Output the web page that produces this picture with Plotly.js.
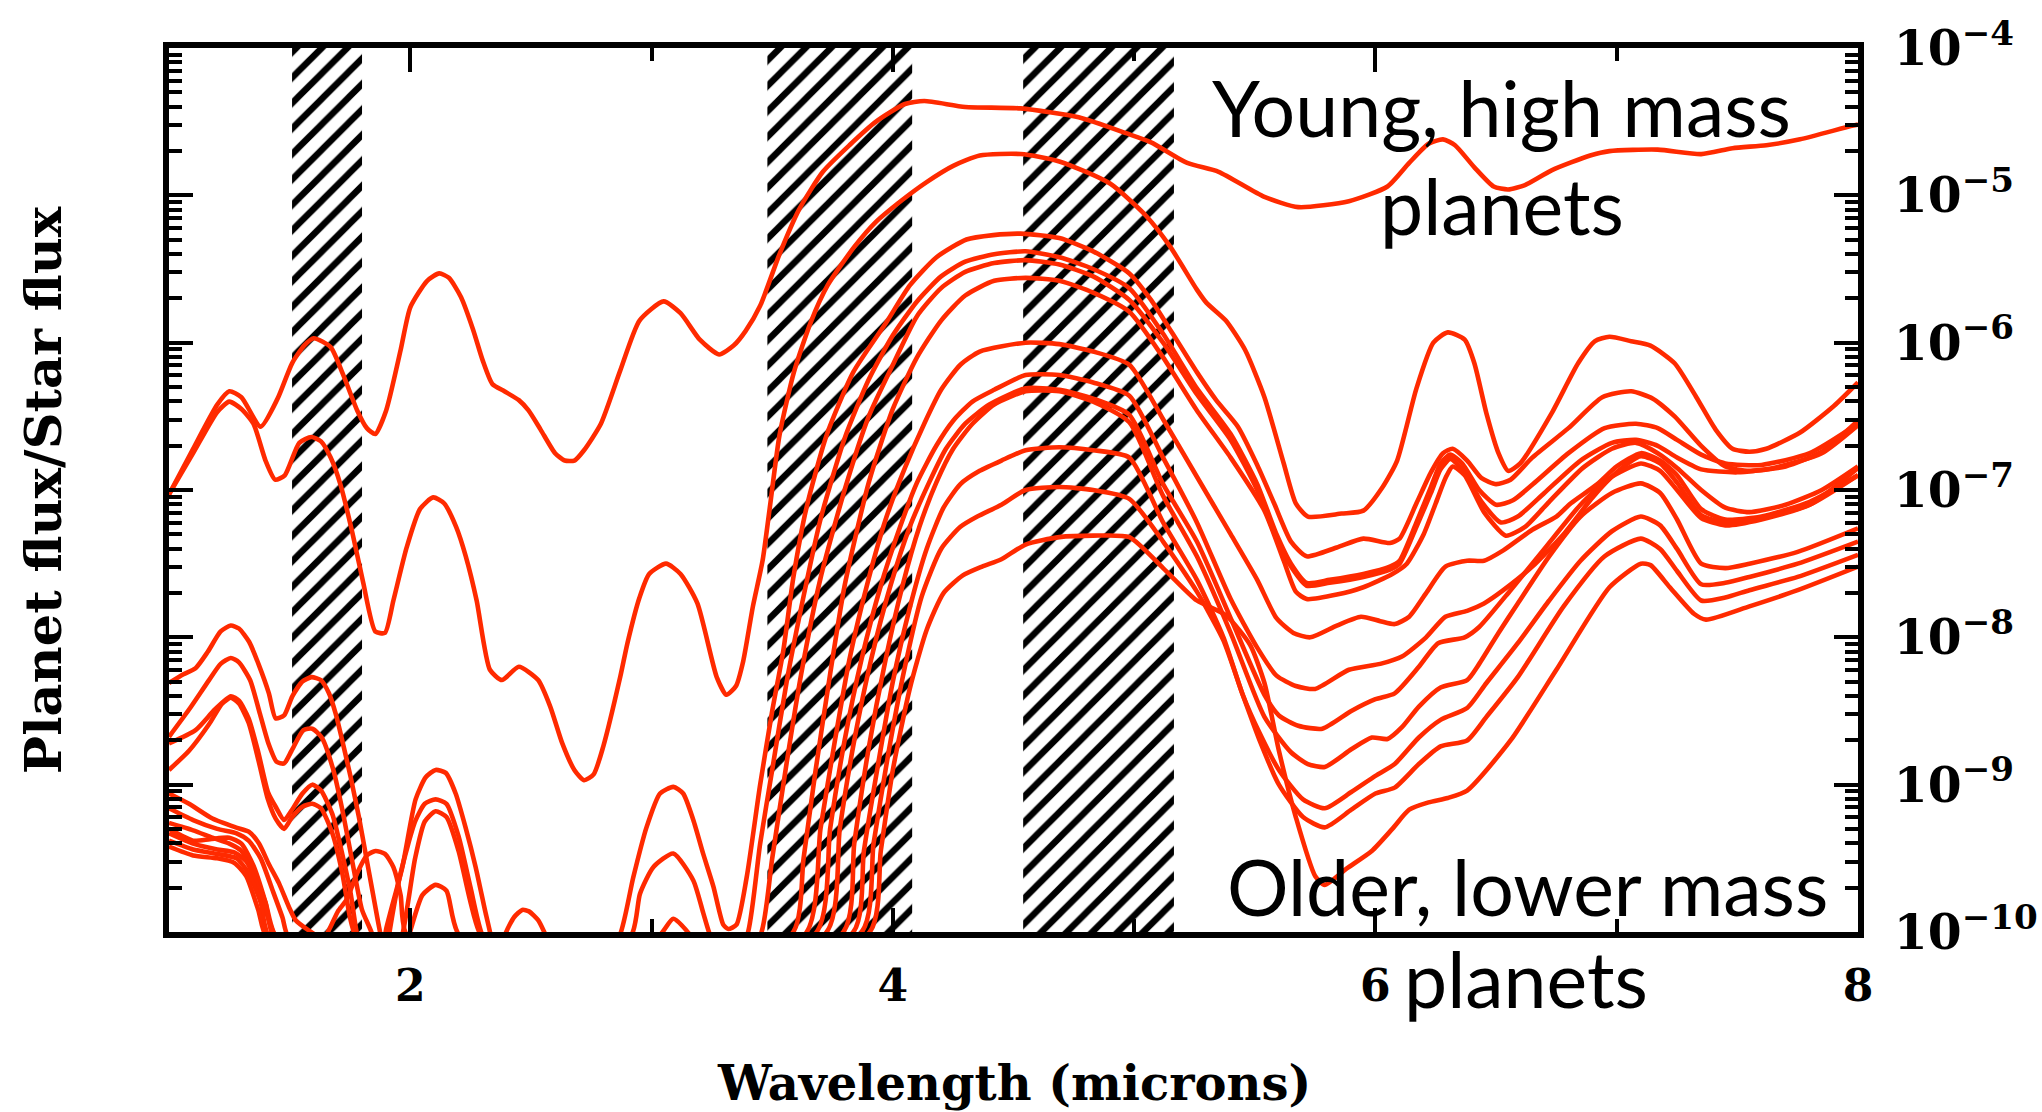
<!DOCTYPE html>
<html>
<head>
<meta charset="utf-8">
<script src="https://cdn.plot.ly/plotly-3.0.1.min.js"></script>
<style>
  html, body { margin: 0; padding: 0; background: #ffffff; }
  #chart { width: 2042px; height: 1112px; }
</style>
</head>
<body>
<div id="chart"></div>
<script>
// Model spectra: each point is [wavelength in microns, log10(planet flux / star flux)].
// Curves run from young, high-mass planets (A) down to older, lower-mass planets (M).
const spectrumA = [[1.0,-7.03],[1.1,-6.72],[1.2,-6.42],[1.25,-6.33],[1.3,-6.37],[1.38,-6.57],[1.45,-6.38],[1.51,-6.14],[1.56,-6.02],[1.6,-5.97],[1.67,-6.03],[1.72,-6.21],[1.78,-6.46],[1.82,-6.58],[1.855,-6.62],[1.9,-6.46],[1.96,-6.05],[2.0,-5.76],[2.07,-5.58],[2.12,-5.53],[2.16,-5.56],[2.21,-5.69],[2.26,-5.91],[2.3,-6.12],[2.34,-6.28],[2.39,-6.33],[2.45,-6.39],[2.49,-6.46],[2.54,-6.59],[2.6,-6.75],[2.64,-6.80],[2.68,-6.80],[2.72,-6.73],[2.79,-6.55],[2.87,-6.19],[2.95,-5.85],[3.05,-5.72],[3.12,-5.80],[3.2,-5.98],[3.28,-6.08],[3.34,-6.02],[3.39,-5.92],[3.45,-5.75],[3.53,-5.40],[3.61,-5.10],[3.71,-4.84],[3.82,-4.66],[3.93,-4.50],[4.05,-4.38],[4.13,-4.36],[4.3,-4.40],[4.53,-4.41],[4.77,-4.47],[4.97,-4.58],[5.07,-4.64],[5.22,-4.78],[5.35,-4.84],[5.54,-5.01],[5.68,-5.08],[5.89,-5.04],[6.05,-4.94],[6.14,-4.78],[6.22,-4.65],[6.28,-4.62],[6.33,-4.66],[6.41,-4.81],[6.49,-4.94],[6.55,-4.96],[6.62,-4.93],[6.73,-4.83],[6.89,-4.73],[6.97,-4.70],[7.17,-4.69],[7.35,-4.72],[7.48,-4.68],[7.62,-4.66],[7.76,-4.62],[7.97,-4.53],[8.0,-4.52]];

const spectrumB = [[1.0,-7.03],[1.1,-6.75],[1.2,-6.47],[1.25,-6.40],[1.3,-6.45],[1.35,-6.55],[1.4,-6.80],[1.44,-6.93],[1.48,-6.90],[1.54,-6.68],[1.59,-6.64],[1.63,-6.67],[1.67,-6.78],[1.71,-6.96],[1.76,-7.29],[1.805,-7.63],[1.855,-7.96],[1.895,-7.97],[1.93,-7.75],[1.985,-7.39],[2.04,-7.13],[2.095,-7.05],[2.14,-7.09],[2.19,-7.25],[2.23,-7.45],[2.275,-7.75],[2.33,-8.22],[2.38,-8.29],[2.45,-8.20],[2.53,-8.29],[2.58,-8.47],[2.63,-8.72],[2.68,-8.90],[2.72,-8.97],[2.76,-8.93],[2.80,-8.74],[2.87,-8.27],[2.90,-8.04],[2.95,-7.73],[2.99,-7.57],[3.06,-7.50],[3.12,-7.57],[3.19,-7.77],[3.27,-8.27],[3.31,-8.39],[3.35,-8.33],[3.38,-8.16],[3.42,-7.79],[3.46,-7.48],[3.49,-7.12],[3.53,-6.63],[3.59,-6.20],[3.66,-5.86],[3.73,-5.61],[3.84,-5.35],[3.93,-5.18],[4.04,-5.03],[4.14,-4.91],[4.25,-4.80],[4.36,-4.73],[4.53,-4.72],[4.69,-4.77],[4.90,-4.92],[5.05,-5.14],[5.15,-5.35],[5.26,-5.64],[5.30,-5.73],[5.38,-5.85],[5.46,-6.05],[5.54,-6.37],[5.62,-6.82],[5.67,-7.09],[5.72,-7.18],[5.86,-7.16],[5.95,-7.14],[6.03,-6.98],[6.09,-6.80],[6.17,-6.31],[6.24,-6.00],[6.30,-5.93],[6.37,-5.98],[6.41,-6.14],[6.46,-6.48],[6.51,-6.75],[6.55,-6.87],[6.60,-6.82],[6.73,-6.48],[6.84,-6.14],[6.91,-5.99],[6.97,-5.96],[7.06,-5.99],[7.14,-6.02],[7.24,-6.14],[7.33,-6.37],[7.41,-6.59],[7.48,-6.72],[7.55,-6.74],[7.62,-6.72],[7.76,-6.61],[7.90,-6.43],[8.0,-6.27]];

const spectrumC = [[1.0,-8.31],[1.06,-8.25],[1.11,-8.21],[1.16,-8.10],[1.214,-7.96],[1.256,-7.92],[1.29,-7.94],[1.332,-8.03],[1.373,-8.19],[1.414,-8.38],[1.442,-8.55],[1.477,-8.53],[1.511,-8.40],[1.553,-8.30],[1.591,-8.27],[1.629,-8.29],[1.663,-8.38],[1.691,-8.52],[1.718,-8.70],[1.753,-8.95],[1.787,-9.22],[1.815,-9.47],[1.843,-9.72],[1.863,-9.90],[1.877,-10.02],[1.888,-10.10],[1.9,-9.98],[1.967,-9.56],[2.022,-9.10],[2.064,-8.95],[2.105,-8.90],[2.147,-8.92],[2.188,-9.06],[2.229,-9.29],[2.271,-9.56],[2.312,-9.87],[2.333,-10.02],[2.36,-10.25],[2.395,-10.01],[2.43,-9.90],[2.464,-9.85],[2.492,-9.86],[2.53,-9.92],[2.561,-10.02],[2.7,-10.5],[2.869,-10.02],[2.924,-9.63],[2.979,-9.29],[3.035,-9.06],[3.09,-9.015],[3.131,-9.06],[3.173,-9.24],[3.214,-9.47],[3.256,-9.69],[3.297,-9.95],[3.318,-9.98],[3.352,-9.95],[3.394,-9.63],[3.45,-9.00],[3.5,-8.50],[3.546,-8.09],[3.587,-7.60],[3.642,-7.12],[3.725,-6.63],[3.836,-6.20],[3.974,-5.86],[4.071,-5.61],[4.181,-5.42],[4.305,-5.30],[4.416,-5.27],[4.53,-5.26],[4.69,-5.29],[4.83,-5.38],[4.98,-5.53],[5.07,-5.71],[5.16,-5.94],[5.26,-6.20],[5.34,-6.39],[5.43,-6.57],[5.51,-6.83],[5.58,-7.09],[5.65,-7.35],[5.715,-7.45],[5.84,-7.39],[5.95,-7.33],[6.06,-7.36],[6.10,-7.33],[6.17,-7.09],[6.23,-6.88],[6.28,-6.75],[6.32,-6.72],[6.38,-6.80],[6.44,-6.92],[6.50,-6.96],[6.56,-6.93],[6.65,-6.78],[6.80,-6.58],[6.94,-6.37],[7.06,-6.33],[7.15,-6.38],[7.24,-6.50],[7.35,-6.70],[7.45,-6.84],[7.55,-6.87],[7.70,-6.84],[7.85,-6.74],[8.0,-6.53]];

const spectrumD = [[1.0,-8.675],[1.083,-8.49],[1.166,-8.29],[1.214,-8.18],[1.256,-8.14],[1.29,-8.17],[1.336,-8.29],[1.377,-8.52],[1.412,-8.72],[1.446,-8.845],[1.477,-8.856],[1.508,-8.77],[1.557,-8.63],[1.594,-8.62],[1.633,-8.68],[1.681,-8.90],[1.722,-9.20],[1.764,-9.56],[1.80,-9.85],[1.843,-10.02],[1.88,-10.4],[1.912,-10.02],[1.96,-9.60],[2.02,-9.25],[2.06,-9.13],[2.105,-9.10],[2.15,-9.13],[2.20,-9.35],[2.25,-9.70],[2.298,-10.02],[2.5,-10.6],[2.917,-10.02],[2.952,-9.74],[3.007,-9.56],[3.09,-9.467],[3.173,-9.65],[3.214,-9.87],[3.242,-10.02],[3.32,-10.3],[3.40,-10.0],[3.45,-9.40],[3.50,-8.90],[3.56,-8.30],[3.62,-7.80],[3.70,-7.20],[3.80,-6.65],[3.90,-6.25],[4.00,-5.95],[4.10,-5.72],[4.20,-5.55],[4.30,-5.45],[4.42,-5.40],[4.55,-5.38],[4.69,-5.42],[4.83,-5.50],[4.98,-5.63],[5.12,-5.94],[5.26,-6.31],[5.40,-6.62],[5.51,-6.96],[5.59,-7.30],[5.65,-7.50],[5.715,-7.63],[5.81,-7.61],[5.95,-7.57],[6.06,-7.52],[6.10,-7.48],[6.17,-7.22],[6.23,-6.98],[6.27,-6.82],[6.31,-6.76],[6.36,-6.82],[6.43,-7.00],[6.50,-7.10],[6.57,-7.07],[6.66,-6.95],[6.80,-6.75],[6.95,-6.58],[7.08,-6.55],[7.17,-6.58],[7.25,-6.66],[7.35,-6.76],[7.45,-6.82],[7.60,-6.83],[7.80,-6.75],[8.0,-6.55]];

const spectrumE = [[1.0,-8.72],[1.11,-8.63],[1.19,-8.49],[1.256,-8.40],[1.29,-8.43],[1.33,-8.55],[1.37,-8.78],[1.41,-9.05],[1.442,-9.15],[1.477,-9.24],[1.51,-9.17],[1.553,-9.06],[1.594,-9.00],[1.63,-9.04],[1.677,-9.20],[1.718,-9.47],[1.753,-9.74],[1.78,-10.02],[1.87,-10.5],[1.967,-10.02],[2.02,-9.50],[2.06,-9.25],[2.105,-9.18],[2.15,-9.22],[2.20,-9.45],[2.25,-9.80],[2.292,-10.02],[2.6,-10.5],[3.035,-10.02],[3.09,-9.91],[3.159,-10.02],[3.3,-10.5],[3.456,-10.0],[3.50,-9.50],[3.56,-8.85],[3.62,-8.25],[3.70,-7.60],[3.80,-7.00],[3.90,-6.50],[4.00,-6.15],[4.10,-5.82],[4.20,-5.63],[4.30,-5.52],[4.42,-5.46],[4.55,-5.44],[4.69,-5.47],[4.83,-5.55],[4.98,-5.71],[5.12,-6.00],[5.26,-6.35],[5.40,-6.66],[5.51,-7.00],[5.59,-7.33],[5.65,-7.52],[5.715,-7.65],[5.81,-7.63],[5.95,-7.59],[6.06,-7.54],[6.10,-7.50],[6.17,-7.25],[6.23,-7.02],[6.27,-6.86],[6.31,-6.79],[6.36,-6.86],[6.44,-7.08],[6.52,-7.22],[6.59,-7.18],[6.70,-7.02],[6.85,-6.80],[6.98,-6.68],[7.08,-6.66],[7.17,-6.70],[7.25,-6.78],[7.35,-6.86],[7.50,-6.88],[7.65,-6.85],[7.85,-6.75],[8.0,-6.56]];

const spectrumF = [[1.0,-8.90],[1.083,-8.77],[1.166,-8.59],[1.22,-8.45],[1.256,-8.41],[1.29,-8.45],[1.33,-8.58],[1.37,-8.83],[1.41,-9.10],[1.442,-9.23],[1.477,-9.30],[1.51,-9.22],[1.553,-9.15],[1.594,-9.13],[1.63,-9.16],[1.677,-9.33],[1.718,-9.60],[1.75,-9.90],[1.77,-10.02],[1.9,-10.5],[1.995,-10.02],[2.05,-9.75],[2.105,-9.68],[2.15,-9.72],[2.202,-10.02],[2.9,-10.6],[3.587,-10.0],[3.63,-9.50],[3.68,-8.90],[3.74,-8.25],[3.80,-7.65],[3.90,-6.95],[4.00,-6.45],[4.10,-6.10],[4.20,-5.85],[4.30,-5.68],[4.42,-5.58],[4.55,-5.56],[4.69,-5.58],[4.83,-5.66],[4.98,-5.79],[5.12,-6.10],[5.26,-6.46],[5.40,-6.78],[5.54,-7.14],[5.62,-7.48],[5.67,-7.69],[5.715,-7.74],[5.84,-7.71],[5.95,-7.66],[6.07,-7.57],[6.13,-7.50],[6.20,-7.30],[6.25,-7.09],[6.29,-6.92],[6.32,-6.84],[6.37,-6.90],[6.45,-7.15],[6.54,-7.31],[6.62,-7.25],[6.72,-7.08],[6.86,-6.85],[6.98,-6.72],[7.08,-6.68],[7.17,-6.75],[7.25,-6.85],[7.35,-7.00],[7.45,-7.12],[7.55,-7.15],[7.70,-7.10],[7.85,-7.00],[8.0,-6.84]];

const spectrumG = [[1.0,-9.06],[1.083,-9.13],[1.18,-9.23],[1.276,-9.29],[1.332,-9.32],[1.373,-9.40],[1.414,-9.54],[1.456,-9.67],[1.497,-9.83],[1.525,-9.92],[1.58,-9.99],[1.62,-10.03],[1.65,-10.02],[1.70,-9.86],[1.736,-9.78],[1.78,-9.60],[1.82,-9.48],[1.856,-9.45],[1.895,-9.47],[1.93,-9.56],[1.96,-9.75],[1.985,-10.02],[2.8,-10.8],[3.643,-10.0],[3.70,-9.30],[3.76,-8.70],[3.82,-8.15],[3.90,-7.60],[3.97,-7.20],[4.05,-6.85],[4.13,-6.55],[4.20,-6.32],[4.28,-6.15],[4.36,-6.06],[4.55,-6.00],[4.69,-6.01],[4.83,-6.06],[4.98,-6.15],[5.12,-6.52],[5.26,-6.91],[5.40,-7.30],[5.51,-7.61],[5.59,-7.87],[5.66,-7.97],[5.73,-8.00],[5.84,-7.92],[5.94,-7.86],[6.02,-7.89],[6.08,-7.91],[6.14,-7.86],[6.21,-7.70],[6.29,-7.52],[6.38,-7.48],[6.45,-7.48],[6.53,-7.41],[6.65,-7.27],[6.75,-7.18],[6.81,-7.09],[6.92,-6.96],[7.00,-6.84],[7.10,-6.75],[7.18,-6.80],[7.25,-6.90],[7.35,-7.13],[7.45,-7.20],[7.60,-7.18],[7.80,-7.08],[8.0,-6.90]];

const spectrumH = [[1.0,-9.16],[1.1,-9.24],[1.2,-9.30],[1.28,-9.33],[1.33,-9.38],[1.38,-9.50],[1.43,-9.72],[1.47,-9.90],[1.50,-10.05],[2.6,-10.8],[3.684,-10.0],[3.74,-9.30],[3.80,-8.70],[3.87,-8.15],[3.95,-7.65],[4.03,-7.25],[4.10,-6.95],[4.18,-6.70],[4.25,-6.53],[4.33,-6.40],[4.42,-6.32],[4.55,-6.22],[4.69,-6.22],[4.83,-6.27],[4.98,-6.36],[5.12,-6.78],[5.26,-7.22],[5.40,-7.74],[5.51,-8.07],[5.59,-8.26],[5.67,-8.33],[5.75,-8.35],[5.89,-8.22],[6.02,-8.18],[6.11,-8.13],[6.21,-8.00],[6.29,-7.86],[6.38,-7.82],[6.45,-7.77],[6.53,-7.68],[6.65,-7.52],[6.78,-7.30],[6.90,-7.05],[7.00,-6.88],[7.10,-6.77],[7.18,-6.82],[7.25,-6.95],[7.35,-7.17],[7.45,-7.22],[7.60,-7.19],[7.80,-7.10],[8.0,-6.90]];

const spectrumI = [[1.0,-9.26],[1.1,-9.31],[1.18,-9.36],[1.25,-9.40],[1.30,-9.45],[1.35,-9.60],[1.40,-9.80],[1.45,-10.05],[2.6,-10.8],[3.726,-10.0],[3.78,-9.30],[3.84,-8.70],[3.91,-8.15],[3.99,-7.65],[4.07,-7.25],[4.15,-6.95],[4.22,-6.72],[4.30,-6.55],[4.40,-6.42],[4.55,-6.31],[4.69,-6.32],[4.83,-6.38],[4.98,-6.49],[5.12,-6.96],[5.26,-7.35],[5.40,-7.87],[5.54,-8.39],[5.60,-8.53],[5.68,-8.60],[5.78,-8.62],[5.90,-8.50],[6.00,-8.42],[6.08,-8.38],[6.18,-8.20],[6.26,-8.04],[6.37,-8.00],[6.43,-7.93],[6.56,-7.68],[6.70,-7.40],[6.85,-7.10],[6.97,-6.92],[7.10,-6.82],[7.18,-6.87],[7.25,-7.00],[7.35,-7.19],[7.45,-7.24],[7.60,-7.20],[7.80,-7.10],[8.0,-6.85]];

const spectrumJ = [[1.0,-9.30],[1.1,-9.38],[1.17,-9.37],[1.25,-9.36],[1.30,-9.40],[1.35,-9.55],[1.40,-9.80],[1.44,-10.05],[2.6,-10.8],[3.795,-10.0],[3.84,-9.40],[3.90,-8.75],[3.97,-8.15],[4.04,-7.65],[4.11,-7.25],[4.18,-6.95],[4.25,-6.72],[4.33,-6.55],[4.42,-6.42],[4.55,-6.33],[4.69,-6.33],[4.83,-6.40],[4.98,-6.54],[5.12,-7.04],[5.26,-7.45],[5.40,-7.97],[5.54,-8.54],[5.65,-8.78],[5.72,-8.86],[5.79,-8.88],[5.90,-8.76],[5.985,-8.68],[6.05,-8.69],[6.11,-8.61],[6.18,-8.47],[6.27,-8.34],[6.38,-8.29],[6.43,-8.18],[6.51,-7.97],[6.59,-7.77],[6.72,-7.45],[6.85,-7.18],[6.98,-7.02],[7.10,-6.955],[7.18,-7.02],[7.25,-7.20],[7.35,-7.50],[7.45,-7.53],[7.55,-7.50],[7.75,-7.42],[8.0,-7.26]];

const spectrumK = [[1.0,-9.33],[1.1,-9.40],[1.2,-9.44],[1.27,-9.46],[1.32,-9.52],[1.37,-9.70],[1.42,-9.95],[1.45,-10.05],[2.6,-10.8],[3.836,-10.0],[3.88,-9.45],[3.94,-8.85],[4.00,-8.30],[4.07,-7.80],[4.14,-7.40],[4.21,-7.12],[4.28,-6.96],[4.36,-6.87],[4.45,-6.80],[4.55,-6.73],[4.69,-6.71],[4.83,-6.73],[4.98,-6.78],[5.12,-7.22],[5.26,-7.61],[5.37,-8.00],[5.45,-8.39],[5.52,-8.65],[5.60,-8.90],[5.70,-9.10],[5.79,-9.16],[5.90,-9.05],[6.00,-8.94],[6.08,-8.86],[6.18,-8.68],[6.27,-8.56],[6.38,-8.48],[6.46,-8.31],[6.59,-8.04],[6.72,-7.75],[6.85,-7.48],[6.98,-7.28],[7.10,-7.18],[7.18,-7.24],[7.25,-7.40],[7.35,-7.64],[7.45,-7.63],[7.55,-7.59],[7.75,-7.50],[8.0,-7.35]];

const spectrumL = [[1.0,-9.38],[1.1,-9.44],[1.2,-9.47],[1.28,-9.50],[1.33,-9.60],[1.38,-9.80],[1.42,-10.05],[2.6,-10.8],[3.871,-10.0],[3.92,-9.40],[3.98,-8.80],[4.05,-8.20],[4.12,-7.72],[4.20,-7.40],[4.28,-7.25],[4.35,-7.18],[4.45,-7.10],[4.55,-7.00],[4.69,-6.98],[4.83,-7.00],[4.98,-7.06],[5.12,-7.35],[5.26,-7.69],[5.37,-8.02],[5.45,-8.39],[5.52,-8.70],[5.60,-9.00],[5.70,-9.22],[5.79,-9.29],[5.90,-9.17],[6.00,-9.06],[6.08,-9.02],[6.18,-8.86],[6.27,-8.74],[6.38,-8.70],[6.46,-8.54],[6.59,-8.27],[6.78,-7.79],[6.95,-7.45],[7.10,-7.33],[7.18,-7.40],[7.25,-7.55],[7.35,-7.75],[7.45,-7.73],[7.55,-7.68],[7.75,-7.59],[8.0,-7.44]];

const spectrumM = [[1.0,-9.42],[1.1,-9.48],[1.2,-9.50],[1.27,-9.53],[1.32,-9.62],[1.37,-9.85],[1.41,-10.05],[2.6,-10.8],[3.904,-10.0],[3.95,-9.45],[4.00,-8.90],[4.07,-8.35],[4.14,-7.95],[4.21,-7.70],[4.29,-7.58],[4.37,-7.52],[4.45,-7.47],[4.55,-7.37],[4.69,-7.32],[4.83,-7.31],[4.98,-7.32],[5.12,-7.53],[5.26,-7.75],[5.38,-7.85],[5.48,-8.05],[5.54,-8.31],[5.60,-8.77],[5.67,-9.22],[5.75,-9.62],[5.79,-9.68],[5.88,-9.57],[5.985,-9.45],[6.07,-9.30],[6.14,-9.17],[6.22,-9.12],[6.30,-9.09],[6.38,-9.04],[6.56,-8.70],[6.75,-8.22],[6.97,-7.66],[7.10,-7.50],[7.14,-7.51],[7.22,-7.66],[7.32,-7.84],[7.37,-7.88],[7.55,-7.79],[7.75,-7.68],[8.0,-7.52]];

// Hatched atmospheric windows (microns).
const bandStart = [1.51, 3.48, 4.54];
const bandEnd   = [1.80, 4.08, 5.165];

// Axis extents.
const xRange = [1, 8];
const logYRange = [-10, -4];

const spectra = [spectrumA, spectrumB, spectrumC, spectrumD, spectrumE, spectrumF,
                 spectrumG, spectrumH, spectrumI, spectrumJ, spectrumK, spectrumL, spectrumM];

const LINE_RED = '#ff2a00';
const LABEL_FONT = 'DejaVu Serif, serif';
const NOTE_FONT = 'Lato, sans-serif';

const yLow = Math.pow(10, logYRange[0]);
const yHigh = Math.pow(10, logYRange[1]);

const traces = [];

bandStart.forEach((x0, i) => {
  const x1 = bandEnd[i];
  traces.push({
    type: 'scatter', mode: 'lines',
    x: [x0, x1, x1, x0, x0],
    y: [yLow, yLow, yHigh, yHigh, yLow],
    fill: 'toself',
    fillcolor: 'white',
    fillpattern: { shape: '/', fgcolor: '#000000', bgcolor: '#ffffff', size: 18, solidity: 0.36 },
    line: { width: 0, color: 'rgba(0,0,0,0)' },
    hoverinfo: 'skip'
  });
});

spectra.forEach(points => {
  traces.push({
    type: 'scatter', mode: 'lines',
    x: points.map(p => p[0]),
    y: points.map(p => Math.pow(10, p[1])),
    line: { color: LINE_RED, width: 4.6, shape: 'spline', smoothing: 0.6 },
    hoverinfo: 'skip'
  });
});

const noteFont = { family: NOTE_FONT, size: 77, color: '#000000' };

const layout = {
  width: 2042, height: 1112,
  margin: { l: 169, r: 184, t: 48, b: 180 },
  paper_bgcolor: '#ffffff', plot_bgcolor: '#ffffff',
  showlegend: false,
  xaxis: {
    range: xRange, tickmode: 'linear', tick0: 0, dtick: 2,
    ticks: 'inside', ticklen: 24, tickwidth: 4, tickcolor: '#000000',
    minor: { ticks: 'inside', dtick: 1, tick0: 0, ticklen: 13, tickwidth: 4, tickcolor: '#000000', showgrid: false },
    showline: true, linewidth: 6, linecolor: '#000000', mirror: 'allticks',
    showgrid: false, zeroline: false,
    tickfont: { family: LABEL_FONT, size: 44, color: '#000000', weight: 'bold' },
    ticklabelstandoff: 10
  },
  yaxis: {
    type: 'log', range: logYRange, side: 'right',
    dtick: 1, exponentformat: 'power', showexponent: 'all',
    ticks: 'inside', ticklen: 24, tickwidth: 4, tickcolor: '#000000',
    minor: { ticks: 'inside', dtick: 'D1', ticklen: 13, tickwidth: 4, tickcolor: '#000000', showgrid: false },
    showline: true, linewidth: 6, linecolor: '#000000', mirror: 'allticks',
    showgrid: false, zeroline: false,
    tickfont: { family: LABEL_FONT, size: 39, color: '#000000', weight: 'bold' },
    ticklabelstandoff: 22
  },
  annotations: [
    { text: 'Planet flux/Star flux', xref: 'paper', yref: 'paper', x: -0.0745, y: 0.5,
      xanchor: 'center', yanchor: 'middle', textangle: -90, showarrow: false,
      font: { family: LABEL_FONT, size: 51, color: '#000000', weight: 'bold' } },
    { text: 'Wavelength (microns)', xref: 'paper', yref: 'paper', x: 0.5, y: -0.171,
      xanchor: 'center', yanchor: 'middle', showarrow: false,
      font: { family: LABEL_FONT, size: 48, color: '#000000', weight: 'bold' } },
    { text: 'Young, high mass', xref: 'paper', yref: 'paper', x: 0.789, y: 0.933,
      xanchor: 'center', yanchor: 'middle', showarrow: false, font: noteFont },
    { text: 'planets', xref: 'paper', yref: 'paper', x: 0.789, y: 0.822,
      xanchor: 'center', yanchor: 'middle', showarrow: false, font: noteFont },
    { text: 'Older, lower mass', xref: 'paper', yref: 'paper', x: 0.8046, y: 0.052,
      xanchor: 'center', yanchor: 'middle', showarrow: false, font: noteFont },
    { text: 'planets', xref: 'paper', yref: 'paper', x: 0.8035, y: -0.052,
      xanchor: 'center', yanchor: 'middle', showarrow: false, font: noteFont }
  ]
};

Plotly.newPlot('chart', traces, layout, { displayModeBar: false, staticPlot: true });
</script>
</body>
</html>
